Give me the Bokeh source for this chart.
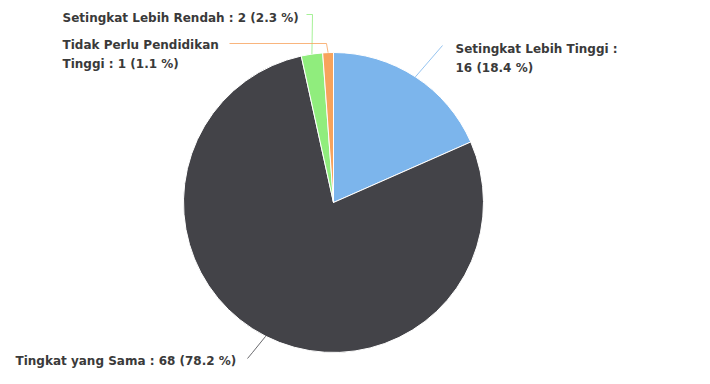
import math
from bokeh.plotting import figure
from bokeh.models import Range1d, ColumnDataSource
from bokeh.core.properties import value
from bokeh.embed import file_html
from bokeh.resources import INLINE

# ---- data ----
categories = ["Setingkat Lebih Tinggi", "Tingkat yang Sama", "Setingkat Lebih Rendah",
              "Tidak Perlu Pendidikan Tinggi"]
counts = [16, 68, 2, 1]
colors = ["#7cb5ec", "#434348", "#90ed7d", "#f7a35c"]

# ---- layout (image pixel coordinates, y downward) ----
H = 384
CX, CY, R = 333, 202, 150

def Y(y):
    return H - y

total = sum(counts)
pcts = [c / total * 100 for c in counts]

starts, ends, mids = [], [], []
cum = 0.0
for c in counts:
    a0 = math.pi / 2 - 2 * math.pi * cum / total
    cum += c
    a1 = math.pi / 2 - 2 * math.pi * cum / total
    starts.append(a0)
    ends.append(a1)
    mids.append((a0 + a1) / 2)

p = figure(width=694, height=368, x_range=Range1d(0, 694), y_range=Range1d(16, 384),
           output_backend="svg", toolbar_location=None, x_axis_type=None, y_axis_type=None,
           min_border=0, outline_line_color=None)
p.grid.visible = False
p.background_fill_color = "white"
p.border_fill_color = "white"

src = ColumnDataSource(dict(start=starts, end=ends, color=colors))
p.wedge(x=CX, y=Y(CY), radius=R, start_angle="start", end_angle="end", direction="clock",
        fill_color="color", line_color="white", line_width=1, source=src)

label_lines = [f"{name} : {c} ({pc:.1f} %)" for name, c, pc in zip(categories, counts, pcts)]

text_items = [
    (["Setingkat Lebih Tinggi :", f"{counts[0]} ({pcts[0]:.1f} %)"], 455, 48),
    ([label_lines[1]], 15, 360),
    ([label_lines[2]], 62, 17),
    (["Tidak Perlu Pendidikan", f"Tinggi : {counts[3]} ({pcts[3]:.1f} %)"], 62, 44),
]
tx, ty, tt = [], [], []
for lines, x, y in text_items:
    for i, ln in enumerate(lines):
        tx.append(x)
        ty.append(Y(y + i * 19))
        tt.append(ln)
p.text(x=tx, y=ty, text=tt, text_font=value("DejaVu Sans"), text_font_style="bold",
       text_font_size="12px", text_color="#3a3a3a", text_baseline="middle", text_align="left")

def edge(i, r=R):
    a = mids[i]
    return CX + r * math.cos(a), CY - r * math.sin(a)

anchors = [
    [(442, 45)],
    [(252, 352), (247, 358)],
    [(312, 14), (306, 14)],
    [(326, 43), (229, 43)],
]
for i, pts in enumerate(anchors):
    ex, ey = edge(i)
    xs = [ex] + [pt[0] for pt in pts]
    ys = [Y(ey)] + [Y(pt[1]) for pt in pts]
    p.line(xs, ys, line_color=colors[i], line_width=1, line_alpha=0.8)

open("out.html", "w").write(file_html(p, INLINE))
